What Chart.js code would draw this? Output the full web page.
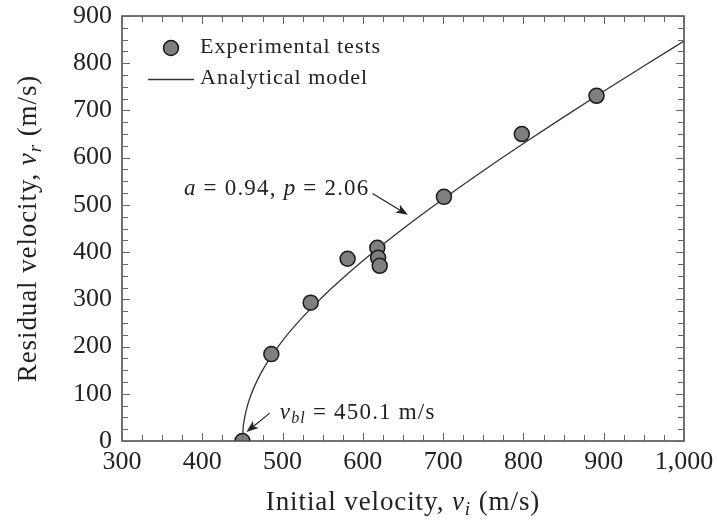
<!DOCTYPE html>
<html>
<head>
<meta charset="utf-8">
<script src="https://cdn.jsdelivr.net/npm/chart.js@4.4.1/dist/chart.umd.min.js"></script>
<style>
    html, body { margin: 0; padding: 0; background: #fff; }
    #chart { display: block; }
</style>
</head>
<body>
<canvas id="chart" width="718" height="524"></canvas>
<script>
// Experimental tests
const testVelocityIn = [450, 486, 535, 581, 618, 619, 621, 701, 798, 891];
const testVelocityOut = [0, 184, 293, 386, 409, 388, 371, 517, 650, 731];

// Analytical model curve, sampled from the figure
const modelVelocityIn = [450.1, 451, 452, 455, 460, 470, 480, 500, 525, 550, 600, 650, 700, 750, 800, 850, 900, 950, 1000];
const modelVelocityOut = [0, 29.4, 42.3, 67.1, 94.7, 133.7, 163.8, 212.4, 262.2, 305.5, 381.5, 449.4, 512.4, 572.3, 629.9, 685.8, 740.5, 794.2, 847];

const xTickValues = [300, 400, 500, 600, 700, 800, 900, 1000];
const yTickValues = [0, 100, 200, 300, 400, 500, 600, 700, 800, 900];
const minorStep = 25;

const SERIF = '"Liberation Serif", "DejaVu Serif", serif';
const INK = '#222';

// annotation arrows: from -> tip in data units
const annotations = [
    {
        parts: [['a', 'i'], [' = 0.94, ', 'n'], ['p', 'i'], [' = 2.06', 'n']],
        from: [612, 524], tip: [656, 479], side: 'left'
    },
    {
        parts: [['v', 'i'], ['bl', 's'], [' = 450.1 m/s', 'n']],
        from: [484, 59], tip: [455, 19], side: 'right'
    }
];

function partFont(kind, size) {
    if (kind === 'i') return `italic ${size}px ${SERIF}`;
    if (kind === 's') return `italic ${Math.round(size * 0.7)}px ${SERIF}`;
    return `${size}px ${SERIF}`;
}

function richWidth(ctx, parts, size, spacing) {
    let w = 0;
    ctx.letterSpacing = spacing + 'px';
    parts.forEach(([t, k]) => {
        ctx.font = partFont(k, size);
        w += ctx.measureText(t).width;
    });
    return w;
}

function drawRich(ctx, parts, x, y, size, align, spacing = 0) {
    const w = richWidth(ctx, parts, size, spacing);
    let cx = align === 'center' ? x - w / 2 : align === 'right' ? x - w : x;
    ctx.textBaseline = 'middle';
    ctx.textAlign = 'left';
    ctx.fillStyle = INK;
    parts.forEach(([t, k]) => {
        ctx.font = partFont(k, size);
        ctx.fillText(t, cx, k === 's' ? y + size * 0.25 : y);
        cx += ctx.measureText(t).width;
    });
    ctx.letterSpacing = '0px';
}

const framePlugin = {
    id: 'frame',
    afterDatasetsDraw(chart) {
        const ctx = chart.ctx;
        const area = chart.chartArea;
        const xs = chart.scales.x;
        const ys = chart.scales.y;
        ctx.save();

        // box
        ctx.strokeStyle = '#444';
        ctx.lineWidth = 1.5;
        ctx.strokeRect(area.left, area.top, area.right - area.left, area.bottom - area.top);

        // inward ticks on all four sides
        ctx.lineWidth = 1;
        ctx.strokeStyle = '#666';
        ctx.beginPath();
        for (let v = xs.min; v <= xs.max; v += minorStep) {
            const px = Math.round(xs.getPixelForValue(v)) + 0.5;
            const len = v % 100 === 0 ? 8 : 6;
            ctx.moveTo(px, area.bottom); ctx.lineTo(px, area.bottom - len);
            ctx.moveTo(px, area.top); ctx.lineTo(px, area.top + len);
        }
        for (let v = ys.min; v <= ys.max; v += minorStep) {
            const py = Math.round(ys.getPixelForValue(v)) + 0.5;
            const len = v % 100 === 0 ? 8 : 6;
            ctx.moveTo(area.left, py); ctx.lineTo(area.left + len, py);
            ctx.moveTo(area.right, py); ctx.lineTo(area.right - len, py);
        }
        ctx.stroke();

        // legend
        const scatter = chart.data.datasets[0];
        const model = chart.data.datasets[1];
        ctx.beginPath();
        ctx.arc(171, 48, 7.5, 0, Math.PI * 2);
        ctx.fillStyle = scatter.backgroundColor;
        ctx.fill();
        ctx.lineWidth = scatter.borderWidth;
        ctx.strokeStyle = scatter.borderColor;
        ctx.stroke();
        ctx.beginPath();
        ctx.moveTo(148, 79.5); ctx.lineTo(194, 79.5);
        ctx.lineWidth = model.borderWidth;
        ctx.strokeStyle = model.borderColor;
        ctx.stroke();
        drawRich(ctx, [[scatter.label, 'n']], 200, 47, 22, 'left', 1);
        drawRich(ctx, [[model.label, 'n']], 200, 78, 22, 'left', 1);

        // annotations with arrows
        annotations.forEach(a => {
            const fx = xs.getPixelForValue(a.from[0]);
            const fy = ys.getPixelForValue(a.from[1]);
            const tx = xs.getPixelForValue(a.tip[0]);
            const ty = ys.getPixelForValue(a.tip[1]);
            const ang = Math.atan2(ty - fy, tx - fx);
            ctx.strokeStyle = INK;
            ctx.fillStyle = INK;
            ctx.lineWidth = 1.2;
            ctx.beginPath();
            ctx.moveTo(fx, fy);
            ctx.lineTo(tx - 8 * Math.cos(ang), ty - 8 * Math.sin(ang));
            ctx.stroke();
            ctx.beginPath();
            ctx.moveTo(tx, ty);
            ctx.lineTo(tx - 12 * Math.cos(ang) + 4.5 * Math.sin(ang), ty - 12 * Math.sin(ang) - 4.5 * Math.cos(ang));
            ctx.lineTo(tx - 9 * Math.cos(ang), ty - 9 * Math.sin(ang));
            ctx.lineTo(tx - 12 * Math.cos(ang) - 4.5 * Math.sin(ang), ty - 12 * Math.sin(ang) + 4.5 * Math.cos(ang));
            ctx.closePath();
            ctx.fill();
            if (a.side === 'left') {
                drawRich(ctx, a.parts, fx - 3, fy - 5, 23, 'right', 1.2);
            } else {
                drawRich(ctx, a.parts, fx + 10, fy, 23, 'left', 1.2);
            }
        });

        // axis titles
        drawRich(ctx, [['Initial velocity, ', 'n'], ['v', 'i'], ['i', 's'], [' (m/s)', 'n']],
            (area.left + area.right) / 2, 503, 27, 'center', 0.9);
        ctx.save();
        ctx.translate(29, (area.top + area.bottom) / 2);
        ctx.rotate(-Math.PI / 2);
        drawRich(ctx, [['Residual velocity, ', 'n'], ['v', 'i'], ['r', 's'], [' (m/s)', 'n']], 0, 0, 27, 'center', 0.9);
        ctx.restore();

        ctx.restore();
    }
};

const ctx = document.getElementById('chart').getContext('2d');

new Chart(ctx, {
    type: 'scatter',
    data: {
        datasets: [
            {
                label: 'Experimental tests',
                data: testVelocityIn.map((v, i) => ({ x: v, y: testVelocityOut[i] })),
                backgroundColor: '#7f7f7f',
                borderColor: '#1a1a1a',
                borderWidth: 1.5,
                pointRadius: 7.5,
                pointHoverRadius: 7.5,
                order: 0
            },
            {
                type: 'line',
                label: 'Analytical model',
                data: modelVelocityIn.map((v, i) => ({ x: v, y: modelVelocityOut[i] })),
                borderColor: '#333',
                borderWidth: 1.3,
                pointRadius: 0,
                fill: false,
                cubicInterpolationMode: 'monotone',
                order: 1
            }
        ]
    },
    options: {
        responsive: false,
        animation: false,
        layout: {
            padding: { left: 0, top: 16, right: 34, bottom: 0 }
        },
        plugins: {
            legend: { display: false },
            tooltip: { enabled: false }
        },
        scales: {
            x: {
                type: 'linear',
                min: 300,
                max: 1000,
                afterBuildTicks: scale => { scale.ticks = xTickValues.map(v => ({ value: v })); },
                afterFit: scale => {
                    scale.height = 83;
                    scale.paddingLeft = 0;
                    scale.paddingRight = 0;
                },
                grid: { display: false, drawTicks: false },
                border: { display: false },
                ticks: {
                    color: INK,
                    padding: 6,
                    font: { family: SERIF, size: 26 },
                    callback: v => v.toLocaleString('en-US')
                }
            },
            y: {
                type: 'linear',
                min: 0,
                max: 900,
                afterBuildTicks: scale => { scale.ticks = yTickValues.map(v => ({ value: v })); },
                afterFit: scale => {
                    scale.width = 122;
                    scale.paddingTop = 0;
                    scale.paddingBottom = 0;
                },
                grid: { display: false, drawTicks: false },
                border: { display: false },
                ticks: {
                    color: INK,
                    padding: 10,
                    font: { family: SERIF, size: 26 }
                }
            }
        }
    },
    plugins: [framePlugin]
});
</script>
</body>
</html>
